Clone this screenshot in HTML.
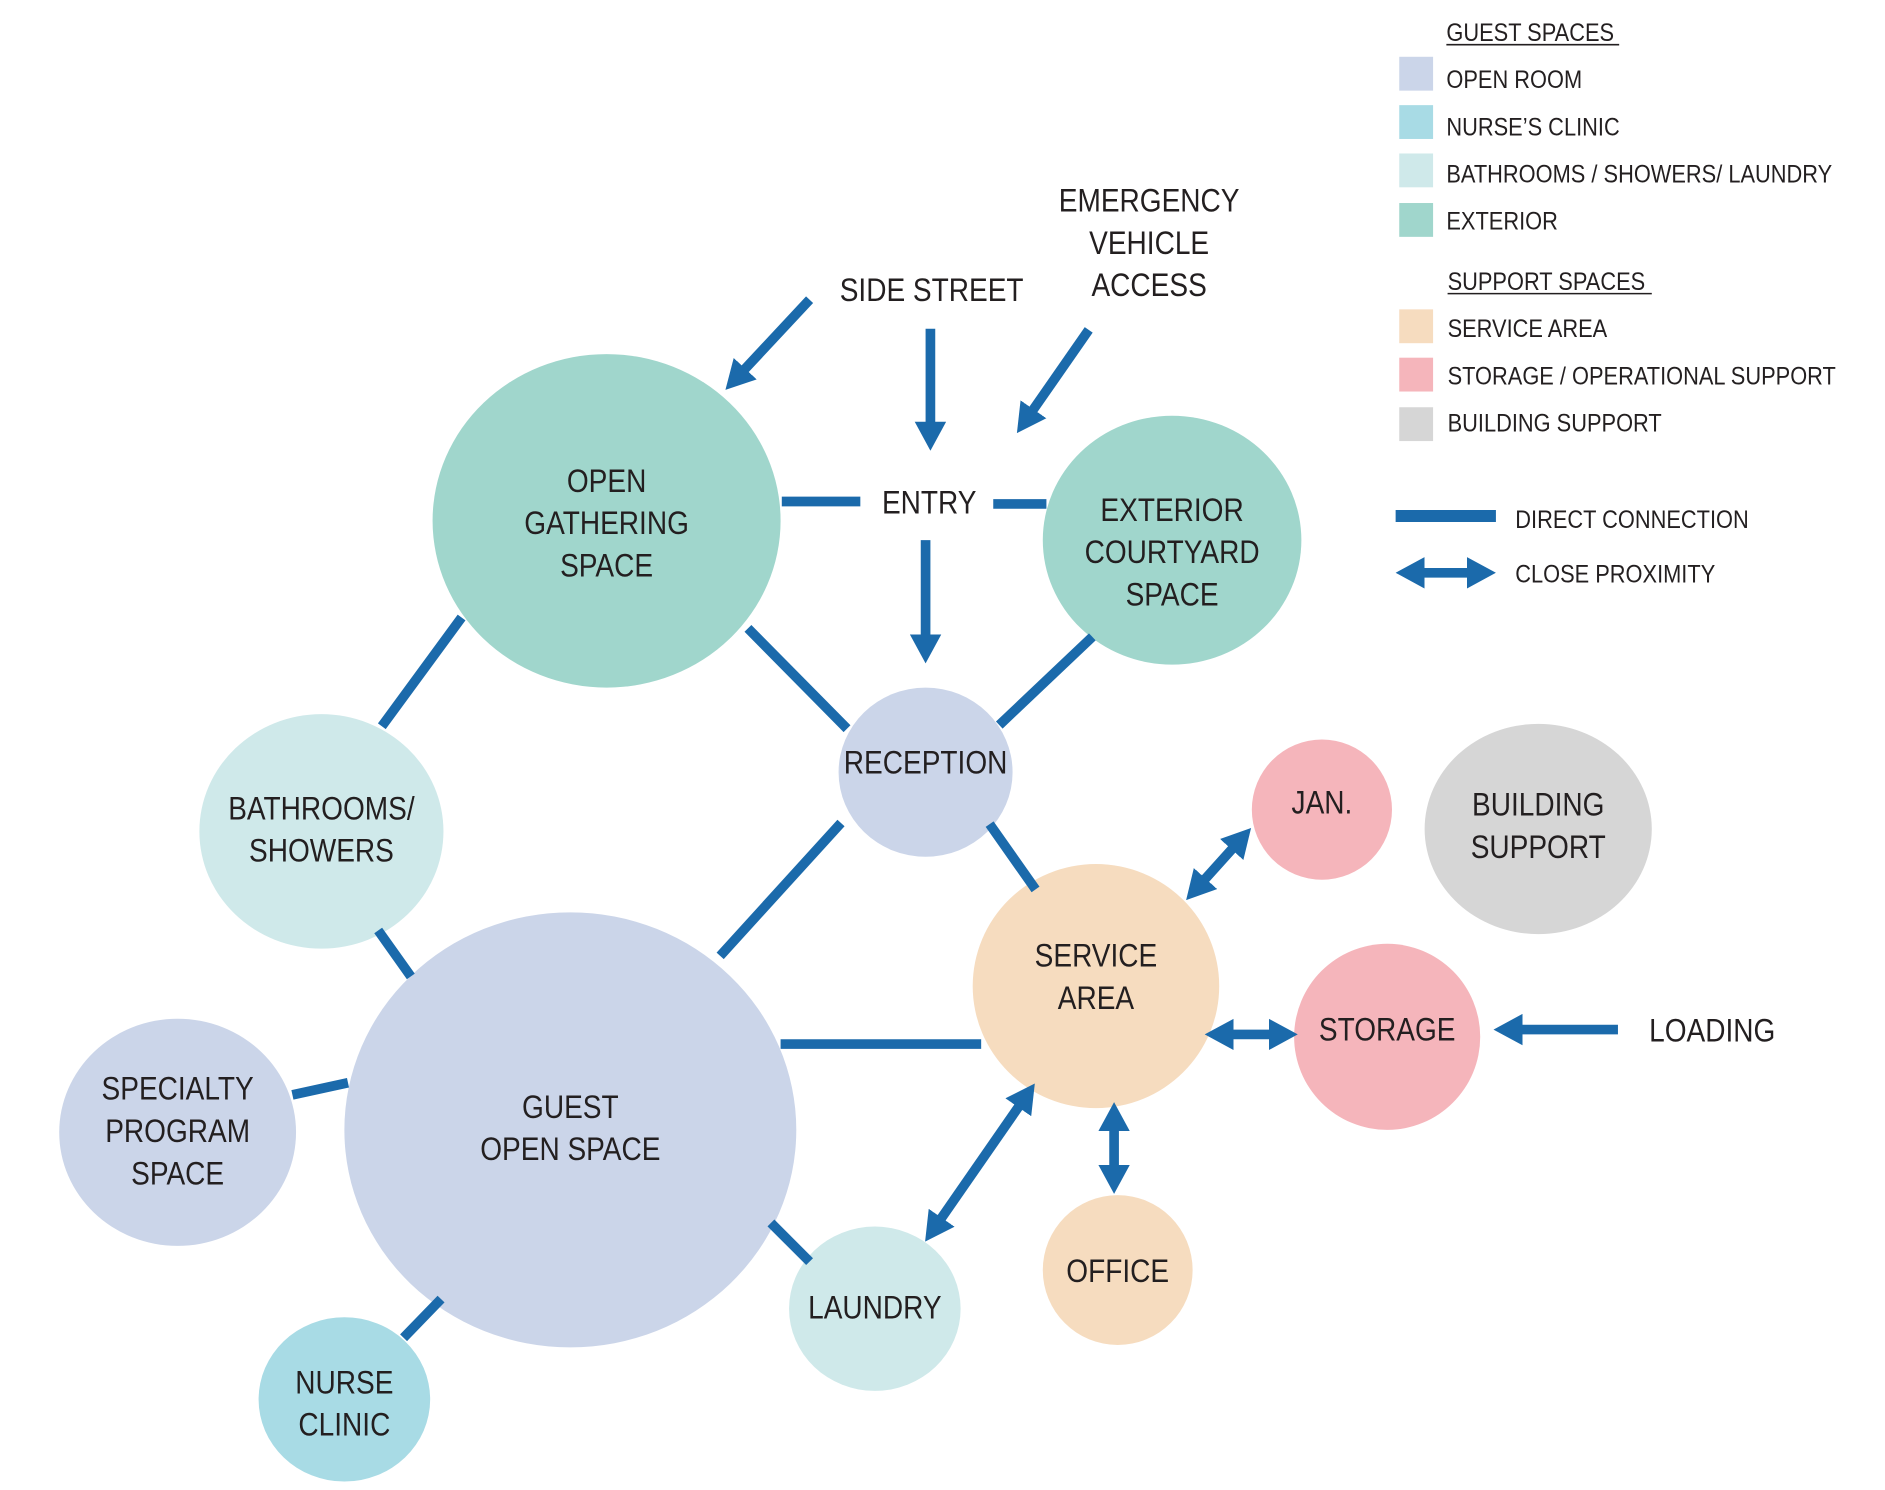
<!DOCTYPE html>
<html><head><meta charset="utf-8"><style>
html,body{margin:0;padding:0;background:#fff;}
svg{display:block;}
text{font-family:"Liberation Sans",Arial,sans-serif;fill:#231f20;}
</style></head><body>
<svg width="1885" height="1490" viewBox="0 0 1560 1233" preserveAspectRatio="none" xmlns="http://www.w3.org/2000/svg">
<defs>
<marker id="a" markerUnits="userSpaceOnUse" markerWidth="24" markerHeight="26" viewBox="0 0 24 26" refX="4" refY="13" orient="auto-start-reverse">
<path d="M0,0 L24,13 L0,26 z" fill="#1b6aab"/></marker>
</defs>
<!-- circles -->
<ellipse cx="502" cy="431" rx="144" ry="138" fill="#a0d6cc"/>
<ellipse cx="970" cy="447" rx="107" ry="103" fill="#a0d6cc"/>
<ellipse cx="766" cy="639" rx="72" ry="70" fill="#cbd5e9"/>
<ellipse cx="266" cy="688" rx="101" ry="97" fill="#cfe9ea"/>
<ellipse cx="472" cy="935" rx="187" ry="180" fill="#cbd5e9"/>
<ellipse cx="147" cy="937" rx="98" ry="94" fill="#cbd5e9"/>
<ellipse cx="285" cy="1158" rx="71" ry="68" fill="#a8dbe5"/>
<ellipse cx="724" cy="1083" rx="71" ry="68" fill="#cfe9ea"/>
<ellipse cx="907" cy="816" rx="102" ry="101" fill="#f6dcbf"/>
<ellipse cx="925" cy="1051" rx="62" ry="62" fill="#f6dcbf"/>
<ellipse cx="1094" cy="670" rx="58" ry="58" fill="#f5b5bb"/>
<ellipse cx="1273" cy="686" rx="94" ry="87" fill="#d6d6d6"/>
<ellipse cx="1148" cy="858" rx="77" ry="77" fill="#f5b5bb"/>
<!-- lines -->
<g stroke="#1b6aab" stroke-width="8" fill="none">
<line x1="670" y1="248" x2="614" y2="308" marker-end="url(#a)"/>
<line x1="770" y1="272" x2="770" y2="353" marker-end="url(#a)"/>
<line x1="901" y1="273" x2="853" y2="342" marker-end="url(#a)"/>
<line x1="647" y1="415" x2="712" y2="415"/>
<line x1="822" y1="417" x2="866" y2="417"/>
<line x1="766" y1="447" x2="766" y2="529" marker-end="url(#a)"/>
<line x1="382" y1="511" x2="316" y2="601"/>
<line x1="619" y1="520" x2="701" y2="603"/>
<line x1="904" y1="527" x2="827" y2="600"/>
<line x1="696" y1="681" x2="596" y2="791"/>
<line x1="819" y1="682" x2="857" y2="736"/>
<line x1="313" y1="770" x2="340" y2="808"/>
<line x1="646" y1="864" x2="812" y2="864"/>
<line x1="242" y1="906" x2="288" y2="896"/>
<line x1="334" y1="1107" x2="365" y2="1075"/>
<line x1="638" y1="1012" x2="670" y2="1044"/>
<line x1="777" y1="1011" x2="845" y2="913" marker-start="url(#a)" marker-end="url(#a)"/>
<line x1="922" y1="932" x2="922" y2="968" marker-start="url(#a)" marker-end="url(#a)"/>
<line x1="1017" y1="856" x2="1054" y2="856" marker-start="url(#a)" marker-end="url(#a)"/>
<line x1="995" y1="730" x2="1022" y2="700" marker-start="url(#a)" marker-end="url(#a)"/>
<line x1="1339" y1="852" x2="1256" y2="852" marker-end="url(#a)"/>
<line x1="1155" y1="427" x2="1238" y2="427" stroke-width="10"/>
<line x1="1175" y1="474" x2="1218" y2="474" marker-start="url(#a)" marker-end="url(#a)"/>
</g>
<!-- diagram labels -->
<g font-size="27" text-anchor="middle">
<text transform="translate(771,249) scale(.86,1)">SIDE STREET</text>
<text transform="translate(951,175) scale(.86,1)">EMERGENCY</text>
<text transform="translate(951,210) scale(.86,1)">VEHICLE</text>
<text transform="translate(951,245) scale(.86,1)">ACCESS</text>
<text transform="translate(769,425) scale(.86,1)">ENTRY</text>
<text transform="translate(1417,862) scale(.86,1)">LOADING</text>
<text transform="translate(502,407) scale(.86,1)">OPEN</text>
<text transform="translate(502,442) scale(.86,1)">GATHERING</text>
<text transform="translate(502,477) scale(.86,1)">SPACE</text>
<text transform="translate(970,431) scale(.86,1)">EXTERIOR</text>
<text transform="translate(970,466) scale(.86,1)">COURTYARD</text>
<text transform="translate(970,501) scale(.86,1)">SPACE</text>
<text transform="translate(766,640) scale(.86,1)">RECEPTION</text>
<text transform="translate(266,678) scale(.86,1)">BATHROOMS/</text>
<text transform="translate(266,713) scale(.86,1)">SHOWERS</text>
<text transform="translate(472,925) scale(.86,1)">GUEST</text>
<text transform="translate(472,960) scale(.86,1)">OPEN SPACE</text>
<text transform="translate(147,910) scale(.86,1)">SPECIALTY</text>
<text transform="translate(147,945) scale(.86,1)">PROGRAM</text>
<text transform="translate(147,980) scale(.86,1)">SPACE</text>
<text transform="translate(285,1153) scale(.86,1)">NURSE</text>
<text transform="translate(285,1188) scale(.86,1)">CLINIC</text>
<text transform="translate(724,1091) scale(.86,1)">LAUNDRY</text>
<text transform="translate(907,800) scale(.86,1)">SERVICE</text>
<text transform="translate(907,835) scale(.86,1)">AREA</text>
<text transform="translate(925,1061) scale(.86,1)">OFFICE</text>
<text transform="translate(1094,673) scale(.86,1)">JAN.</text>
<text transform="translate(1273,675) scale(.86,1)">BUILDING</text>
<text transform="translate(1273,710) scale(.86,1)">SUPPORT</text>
<text transform="translate(1148,861) scale(.86,1)">STORAGE</text>
</g>
<!-- legend -->
<rect x="1158" y="47" width="28" height="28" fill="#cbd5e9"/>
<rect x="1158" y="87" width="28" height="28" fill="#a8dbe5"/>
<rect x="1158" y="127" width="28" height="28" fill="#cfe9ea"/>
<rect x="1158" y="168" width="28" height="28" fill="#a0d6cc"/>
<rect x="1158" y="256" width="28" height="28" fill="#f6dcbf"/>
<rect x="1158" y="296" width="28" height="28" fill="#f5b5bb"/>
<rect x="1158" y="337" width="28" height="28" fill="#d6d6d6"/>
<g font-size="21">
<text transform="translate(1197,34) scale(.86,1)">GUEST SPACES</text>
<line x1="1197" y1="37" x2="1340" y2="37" stroke="#231f20" stroke-width="1.3"/>
<text transform="translate(1197,73) scale(.86,1)">OPEN ROOM</text>
<text transform="translate(1197,112) scale(.86,1)">NURSE’S CLINIC</text>
<text transform="translate(1197,151) scale(.86,1)">BATHROOMS / SHOWERS/  LAUNDRY</text>
<text transform="translate(1197,190) scale(.86,1)">EXTERIOR</text>
<text transform="translate(1198,240) scale(.86,1)">SUPPORT SPACES</text>
<line x1="1198" y1="243" x2="1367" y2="243" stroke="#231f20" stroke-width="1.3"/>
<text transform="translate(1198,279) scale(.86,1)">SERVICE AREA</text>
<text transform="translate(1198,318) scale(.86,1)">STORAGE / OPERATIONAL SUPPORT</text>
<text transform="translate(1198,357) scale(.86,1)">BUILDING SUPPORT</text>
<text transform="translate(1254,437) scale(.86,1)">DIRECT CONNECTION</text>
<text transform="translate(1254,482) scale(.86,1)">CLOSE PROXIMITY</text>
</g>
</svg>
</body></html>
